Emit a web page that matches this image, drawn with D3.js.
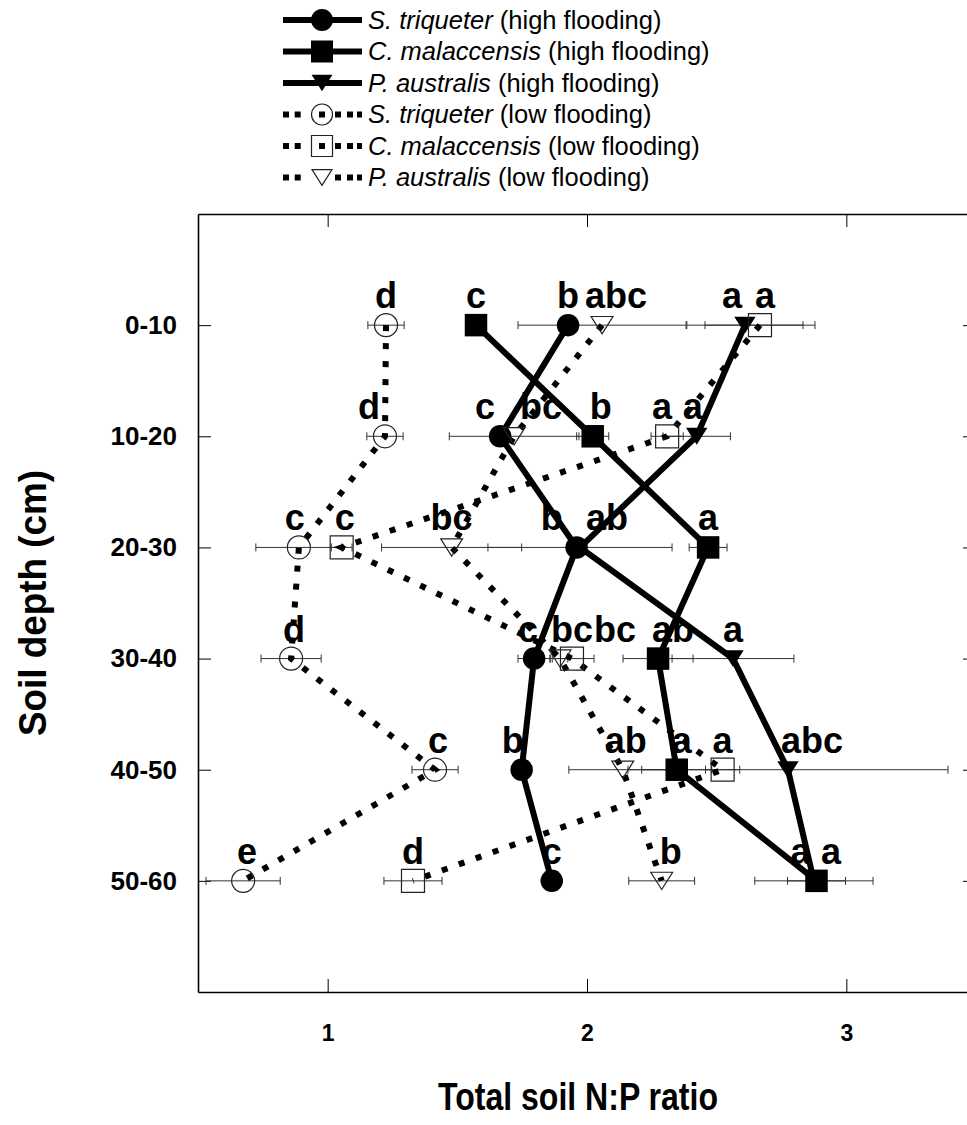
<!DOCTYPE html>
<html>
<head>
<meta charset="utf-8">
<script src="https://cdn.jsdelivr.net/npm/d3@7"></script>
<style>
  body { margin: 0; background: #fff; }
  text { font-family: "Liberation Sans", Arial, sans-serif; }
</style>
</head>
<body>
<div id="chart"></div>
<script>
// soil depth classes (rows) and x ticks
var depths = ["0-10", "10-20", "20-30", "30-40", "40-50", "50-60"];
var xTicks = [1, 2, 3];

// S. triqueter, high flooding
var triHigh    = [1.927, 1.665, 1.960, 1.796, 1.748, 1.864];
var triHighErr = [0.03, 0.03, 0.03, 0.062, 0.03, 0.03];
var triHighSig = ["b", "c", "b", "c", "b", "c"];

// C. malaccensis, high flooding
var malHigh    = [1.572, 2.022, 2.467, 2.274, 2.346, 2.885];
var malHighErr = [0.03, 0.062, 0.073, 0.135, 0.135, 0.112];
var malHighSig = ["c", "b", "a", "ab", "a", "a"];

// P. australis, high flooding
var ausHigh    = [2.609, 2.423, 1.973, 2.563, 2.775, 2.875];
var ausHighErr = [0.224, 0.13, 0.355, 0.235, 0.617, 0.228];
var ausHighSig = ["a", "a", "ab", "a", "abc", "a"];

// S. triqueter, low flooding
var triLow    = [1.225, 1.221, 0.889, 0.859, 1.414, 0.674];
var triLowErr = [0.07, 0.07, 0.166, 0.116, 0.089, 0.143];
var triLowSig = ["d", "d", "c", "d", "c", "e"];

// C. malaccensis, low flooding
var malLow    = [2.667, 2.309, 1.054, 1.942, 2.523, 1.329];
var malLowErr = [0.212, 0.062, 0.04, 0.085, 0.066, 0.112];
var malLowSig = ["a", "a", "c", "bc", "a", "d"];

// P. australis, low flooding
var ausLow    = [2.058, 1.719, 1.478, 1.896, 2.138, 2.288];
var ausLowErr = [0.324, 0.25, 0.27, 0.03, 0.208, 0.127];
var ausLowSig = ["abc", "bc", "bc", "bc", "ab", "b"];

// small horizontal nudges (px) so the letters don't sit on top of each other
var nudge = {
  triHigh: [0, -15, -25, -6, -9, 0],
  malHigh: [0, 8, 0, 15, 5, -16],
  ausHigh: [-13, -4, 27, 0, 24, 17],
  triLow:  [0, -16, -4, 3, 3, 4],
  malLow:  [5, -5, 3, 43, 0, 0],
  ausLow:  [14, 27, 0, 12, 3, 9]
};

var series = [
  {key: "triHigh", sp: "S. triqueter", fl: "(high flooding)", v: triHigh, e: triHighErr, s: triHighSig, sym: "circle", filled: true},
  {key: "malHigh", sp: "C. malaccensis", fl: "(high flooding)", v: malHigh, e: malHighErr, s: malHighSig, sym: "square", filled: true},
  {key: "ausHigh", sp: "P. australis", fl: "(high flooding)", v: ausHigh, e: ausHighErr, s: ausHighSig, sym: "triangle", filled: true},
  {key: "triLow", sp: "S. triqueter", fl: "(low flooding)", v: triLow, e: triLowErr, s: triLowSig, sym: "circle", filled: false},
  {key: "malLow", sp: "C. malaccensis", fl: "(low flooding)", v: malLow, e: malLowErr, s: malLowSig, sym: "square", filled: false},
  {key: "ausLow", sp: "P. australis", fl: "(low flooding)", v: ausLow, e: ausLowErr, s: ausLowSig, sym: "triangle", filled: false}
];

// rows for each series
series.forEach(function(d) {
  d.pts = depths.map(function(dep, i) {
    return {depth: dep, val: d.v[i], err: d.e[i], sig: d.s[i], dx: nudge[d.key][i]};
  });
});

var W = 967, H = 1125;
var plotL = 198, plotR = 976, plotT = 214, plotB = 992;

var svg = d3.select("#chart").append("svg")
    .attr("width", W).attr("height", H);

var x = d3.scaleLinear().domain([0.5, 3.5]).range([plotL, plotR]);
var y = d3.scalePoint().domain(depths).range([plotT, plotB]).padding(1);

// symbol path
function symPath(sym, sz) {
  if (sym == "circle") return d3.symbol().type(d3.symbolCircle).size(Math.PI * sz * sz / 4)();
  if (sym == "square") return d3.symbol().type(d3.symbolSquare).size(sz * sz)();
  var w = sz * 0.95, h = sz * 0.75;
  return "M" + (-w / 2) + "," + (-h / 2) + "L" + (w / 2) + "," + (-h / 2) + "L0," + (h / 2) + "Z";
}

function styleAxis(g, fs) {
  g.select(".domain").attr("stroke", "#000").attr("stroke-width", 1.6);
  g.selectAll(".tick line").attr("stroke", "#000").attr("stroke-width", 1);
  g.selectAll(".tick text").attr("fill", "#000")
      .style("font-weight", "bold").style("font-size", fs)
      .style("font-family", "'Liberation Sans', Arial, sans-serif");
}

// axes
svg.append("g").attr("transform", "translate(" + plotL + ",0)")
    .call(d3.axisLeft(y).tickSizeInner(-13).tickSizeOuter(0).tickPadding(21))
    .call(styleAxis, "26px");
svg.append("g").attr("transform", "translate(" + plotR + ",0)")
    .call(d3.axisRight(y).tickSizeInner(-13).tickSizeOuter(0).tickFormat(""))
    .call(styleAxis, "10px");
svg.append("g").attr("transform", "translate(0," + plotB + ")")
    .call(d3.axisBottom(x).tickValues(xTicks).tickSizeInner(-13).tickSizeOuter(0).tickPadding(33).tickFormat(d3.format("d")))
    .call(styleAxis, "23px");
svg.append("g").attr("transform", "translate(0," + plotT + ")")
    .call(d3.axisTop(x).tickValues(xTicks).tickSizeInner(-13).tickSizeOuter(0).tickFormat(""))
    .call(styleAxis, "10px");

// axis titles
svg.append("text")
    .attr("transform", "translate(46," + ((plotT + plotB) / 2) + ") rotate(-90)")
    .attr("text-anchor", "middle")
    .style("font-size", "38px").style("font-weight", "bold")
    .attr("textLength", 266).attr("lengthAdjust", "spacingAndGlyphs")
    .text("Soil depth (cm)");

svg.append("text")
    .attr("x", 578).attr("y", 1110)
    .attr("text-anchor", "middle")
    .style("font-size", "39px").style("font-weight", "bold")
    .attr("textLength", 280).attr("lengthAdjust", "spacingAndGlyphs")
    .text("Total soil N:P ratio");

// error bars
var errG = svg.append("g");
series.forEach(function(s) {
  var g = errG.append("g").selectAll("g").data(s.pts).enter().append("g")
      .attr("stroke", "#333").attr("stroke-width", 1);
  g.append("line")
      .attr("x1", function(d) { return x(d.val - d.err); })
      .attr("x2", function(d) { return x(d.val + d.err); })
      .attr("y1", function(d) { return y(d.depth); })
      .attr("y2", function(d) { return y(d.depth); });
  [-1, 1].forEach(function(k) {
    g.append("line")
        .attr("x1", function(d) { return x(d.val + k * d.err); })
        .attr("x2", function(d) { return x(d.val + k * d.err); })
        .attr("y1", function(d) { return y(d.depth) - 4; })
        .attr("y2", function(d) { return y(d.depth) + 4; });
  });
});

// lines, dotted ones first
var line = d3.line()
    .x(function(d) { return x(d.val); })
    .y(function(d) { return y(d.depth); });

var lowFirst = series.slice(3).concat(series.slice(0, 3));
svg.append("g").selectAll("path")
    .data(lowFirst)
  .enter().append("path")
    .attr("d", function(d) { return line(d.pts); })
    .attr("fill", "none")
    .attr("stroke", "#000")
    .attr("stroke-width", 6)
    .attr("stroke-dasharray", function(d) { return d.filled ? null : "6,12"; });

// markers
series.forEach(function(s) {
  svg.append("g").selectAll("path")
      .data(s.pts)
    .enter().append("path")
      .attr("transform", function(d) { return "translate(" + x(d.val) + "," + y(d.depth) + ")"; })
      .attr("d", symPath(s.sym, s.filled ? 22.5 : 23))
      .attr("fill", s.filled ? "#000" : "none")
      .attr("stroke", s.filled ? "none" : "#222")
      .attr("stroke-width", 1.2);
});

// significance letters
series.forEach(function(s) {
  svg.append("g").selectAll("text")
      .data(s.pts)
    .enter().append("text")
      .attr("x", function(d) { return x(d.val) + d.dx; })
      .attr("y", function(d) { return y(d.depth) - 17; })
      .attr("text-anchor", "middle")
      .style("font-size", "36px").style("font-weight", "bold")
      .text(function(d) { return d.sig; });
});

// legend
var leg = svg.append("g").selectAll("g")
    .data(series)
  .enter().append("g")
    .attr("transform", function(d, i) { return "translate(0," + (20 + i * 31.5) + ")"; });

// dotted sample: two dashes, one in the symbol centre, two (and a bit) after
leg.append("line")
    .attr("x1", 283).attr("x2", 362)
    .attr("stroke", "#000").attr("stroke-width", 6)
    .attr("stroke-dasharray", function(d) { return d.filled ? null : "6,5.7,6,18.3,6,10,6,6,6,4,5"; });

leg.append("path")
    .attr("transform", "translate(322,0)")
    .attr("d", function(d) { return symPath(d.sym, d.filled ? 22 : 21); })
    .attr("fill", function(d) { return d.filled ? "#000" : (d.sym == "triangle" ? "#fff" : "none"); })
    .attr("stroke", function(d) { return d.filled ? "none" : "#222"; })
    .attr("stroke-width", 1.2);

var lt = leg.append("text")
    .attr("x", 368).attr("dy", "0.35em")
    .style("font-size", "25.5px");
lt.append("tspan").style("font-style", "italic").text(function(d) { return d.sp; });
lt.append("tspan").text(function(d) { return " " + d.fl; });
</script>
</body>
</html>
